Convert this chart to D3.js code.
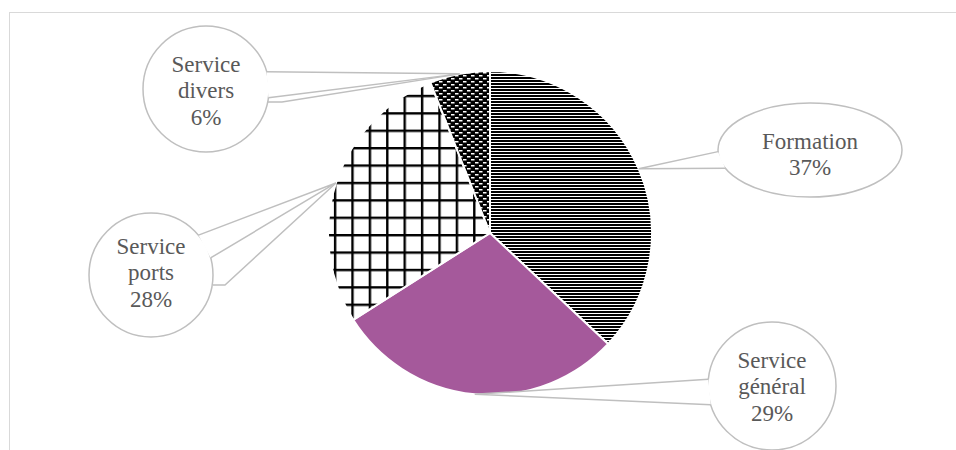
<!DOCTYPE html>
<html>
<head>
<meta charset="utf-8">
<script src="https://cdn.jsdelivr.net/npm/d3@7"></script>
<style>
  body { margin: 0; background: #fff; }
  svg { display: block; }
  .lbl { font-family: "Liberation Serif", "Times New Roman", Tinos, "DejaVu Serif", serif; }
</style>
</head>
<body>
<div id="chart"></div>
<script>
// data
const categories = ["Formation", "Service général", "Service ports", "Service divers"];
const values = [37, 29, 28, 6];
const labelLines = [["Formation"], ["Service", "général"], ["Service", "ports"], ["Service", "divers"]];

const W = 956, H = 450;
const cx = 490, cy = 233, R = 162;

const svg = d3.select("#chart").append("svg")
    .attr("width", W)
    .attr("height", H);

// chart frame
svg.append("rect")
    .attr("x", 9.5).attr("y", 12.5)
    .attr("width", 980).attr("height", 480)
    .attr("fill", "none")
    .attr("stroke", "#d9d9d9");

const defs = svg.append("defs");

// horizontal lines
const pH = defs.append("pattern").attr("id", "p-hlines")
    .attr("patternUnits", "userSpaceOnUse").attr("width", 8).attr("height", 3);
pH.append("rect").attr("width", 8).attr("height", 3).attr("fill", "#fff");
pH.append("rect").attr("y", 0).attr("width", 8).attr("height", 2).attr("fill", "#000");

// grid
const g = 17.4;
const pG = defs.append("pattern").attr("id", "p-grid")
    .attr("patternUnits", "userSpaceOnUse").attr("width", g).attr("height", g)
    .attr("patternTransform", "translate(0.5,1)");
pG.append("rect").attr("width", g).attr("height", g).attr("fill", "#fff");
pG.append("rect").attr("x", 0).attr("y", 0).attr("width", 2.4).attr("height", g).attr("fill", "#000");
pG.append("rect").attr("x", 0).attr("y", 0).attr("width", g).attr("height", 2.4).attr("fill", "#000");

// dotted (black with white dashes)
const pD = defs.append("pattern").attr("id", "p-dots")
    .attr("patternUnits", "userSpaceOnUse").attr("width", 8).attr("height", 6);
pD.append("rect").attr("width", 8).attr("height", 6).attr("fill", "#000");
pD.append("rect").attr("x", 1).attr("y", 1).attr("width", 3.5).attr("height", 1.5).attr("fill", "#fff");
pD.append("rect").attr("x", 5).attr("y", 4).attr("width", 3).attr("height", 1.5).attr("fill", "#fff");
pD.append("rect").attr("x", 0).attr("y", 4).attr("width", 0.5).attr("height", 1.5).attr("fill", "#fff");

const fills = ["url(#p-hlines)", "#a5599b", "url(#p-grid)", "url(#p-dots)"];

const pie = d3.pie().sort(null).value(d => d);
const arcs = pie(values);
const arc = d3.arc().innerRadius(0).outerRadius(R);
const edge = d3.arc().innerRadius(R).outerRadius(R);

const pieG = svg.append("g").attr("transform", `translate(${cx},${cy})`);
pieG.selectAll("path")
    .data(arcs)
    .join("path")
    .attr("d", arc)
    .attr("fill", (d, i) => fills[i])
    .attr("stroke", "#fff")
    .attr("stroke-width", 2);

// callout bubbles (layout)
const bubbles = [
    { x: 810, y: 150, rx: 92, ry: 47, base: [178, 157], dy: 4 },
    { x: 772, y: 386, rx: 64, ry: 64, base: [186, 163], dy: 0 },
    { x: 151, y: 275, rx: 62, ry: 62, base: [-40, -16], dy: -3, leader: [[225, 285], [213, 285]] },
    { x: 206, y: 89, rx: 63, ry: 63, base: [-16, 8], dy: 1, leader: [[282, 102], [268, 102]] }
];

const stroke = "#bfbfbf";
const fmt = v => v + "%";

arcs.forEach((a, i) => {
    const b = bubbles[i];
    const c = edge.centroid(a);
    const tip = [cx + c[0], cy + c[1]];
    const bp = b.base.map(t => {
        const r = t * Math.PI / 180;
        return [b.x + b.rx * Math.cos(r), b.y + b.ry * Math.sin(r)];
    });

    if (b.leader) {
        svg.append("polyline")
            .attr("points", [tip].concat(b.leader).map(p => p.join(",")).join(" "))
            .attr("fill", "none")
            .attr("stroke", stroke)
            .attr("stroke-width", 1.5);
    }

    svg.append("ellipse")
        .attr("cx", b.x).attr("cy", b.y)
        .attr("rx", b.rx).attr("ry", b.ry)
        .attr("fill", "#fff")
        .attr("stroke", stroke)
        .attr("stroke-width", 1.5);

    // cover the arc between the tail base points
    svg.append("polygon")
        .attr("points", [tip, bp[0], bp[1]].map(p => p.join(",")).join(" "))
        .attr("fill", "#fff");

    svg.append("polyline")
        .attr("points", [bp[0], tip, bp[1]].map(p => p.join(",")).join(" "))
        .attr("fill", "none")
        .attr("stroke", stroke)
        .attr("stroke-width", 1.5)
        .attr("stroke-linejoin", "miter");

    const lines = labelLines[i].concat([fmt(values[i])]);
    const lh = 26.5;
    const t = svg.append("text")
        .attr("class", "lbl")
        .attr("text-anchor", "middle")
        .attr("font-size", 23)
        .attr("fill", "#595959");
    lines.forEach((s, k) => {
        t.append("tspan")
            .attr("x", b.x)
            .attr("y", b.y + 8 + b.dy + (k - (lines.length - 1) / 2) * lh)
            .text(s);
    });
});
</script>
</body>
</html>
